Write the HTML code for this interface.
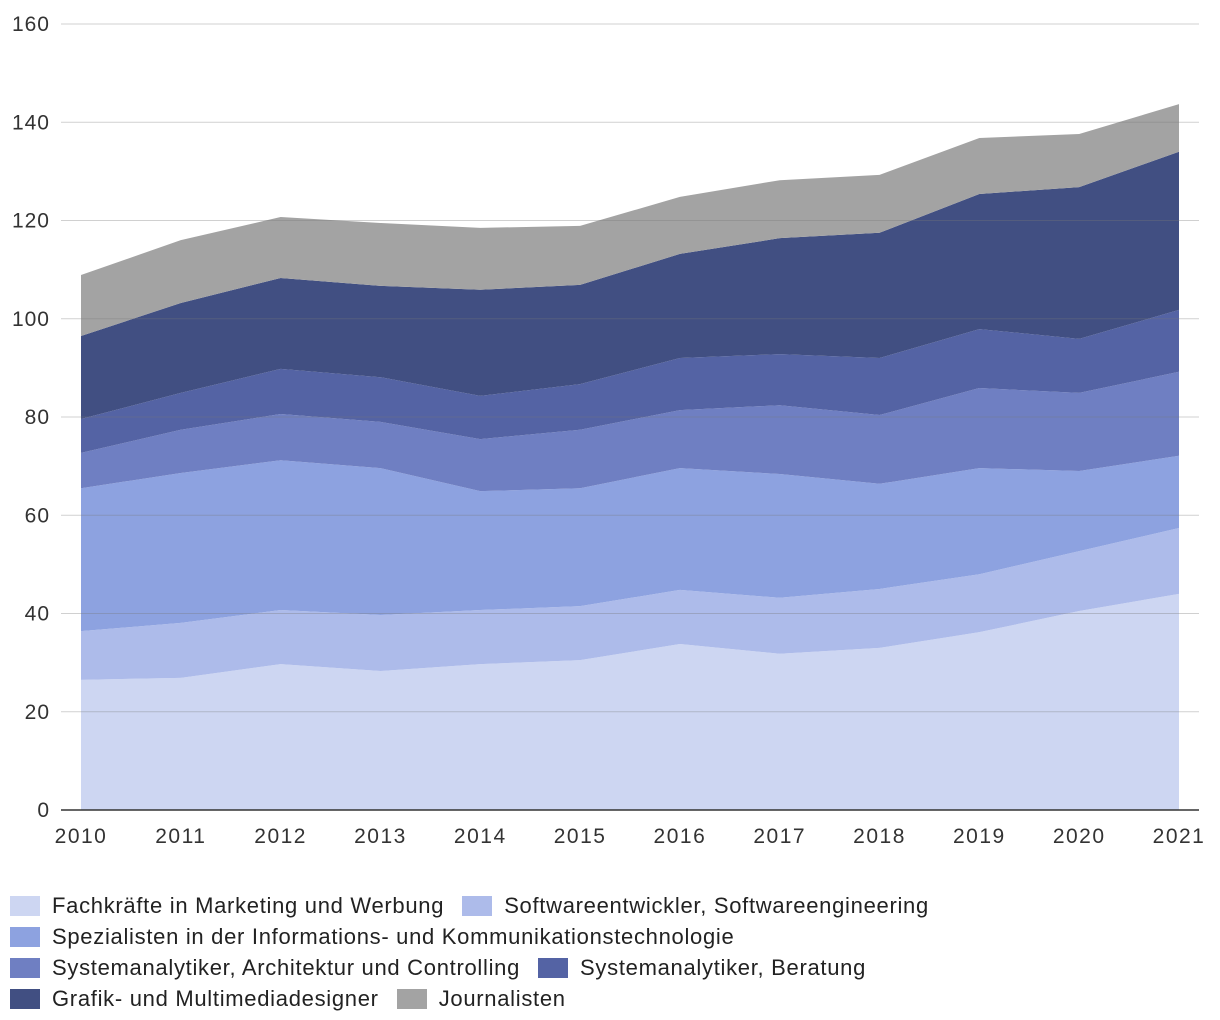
<!DOCTYPE html>
<html><head><meta charset="utf-8"><style>
body{margin:0;background:#fff;font-family:"Liberation Sans",sans-serif;}
.lg{position:absolute;left:10px;top:890px;width:1210px;font-size:22px;letter-spacing:0.7px;color:#222;}
.row{height:31px;display:flex;align-items:center;white-space:nowrap;}
.it{display:flex;align-items:center;margin-right:18px;}
.sw{width:30px;height:20px;margin-right:12px;}
</style></head><body>
<svg id="c" width="1220" height="880" style="position:absolute;left:0;top:0"></svg>
<div class="lg">
<div class="row"><div class="it"><div class="sw" style="background:#cdd6f2"></div>Fachkräfte in Marketing und Werbung</div><div class="it"><div class="sw" style="background:#adbbea"></div>Softwareentwickler, Softwareengineering</div></div>
<div class="row"><div class="it"><div class="sw" style="background:#8da2e0"></div>Spezialisten in der Informations- und Kommunikationstechnologie</div></div>
<div class="row"><div class="it"><div class="sw" style="background:#6f7fc2"></div>Systemanalytiker, Architektur und Controlling</div><div class="it"><div class="sw" style="background:#5463a4"></div>Systemanalytiker, Beratung</div></div>
<div class="row"><div class="it"><div class="sw" style="background:#414f82"></div>Grafik- und Multimediadesigner</div><div class="it"><div class="sw" style="background:#a3a3a3"></div>Journalisten</div></div>
</div>
<script>
const years=[2010,2011,2012,2013,2014,2015,2016,2017,2018,2019,2020,2021];
const yTicks=[0,20,40,60,80,100,120,140,160];
const fachkraefte=[26.5,26.9,29.7,28.3,29.7,30.5,33.8,31.8,33,36.2,40.5,44];
const software=[9.9,11.2,11,11.4,11,11,11,11.4,12,11.8,12.2,13.4];
const spezialisten=[29.1,30.5,30.5,29.9,24.2,24,24.8,25.2,21.4,21.6,16.3,14.7];
const sysArch=[7.2,8.8,9.4,9.4,10.6,11.9,11.8,14,14,16.3,15.9,17.1];
const sysBeratung=[6.9,7.5,9.2,9.1,8.8,9.3,10.6,10.4,11.6,12,11,12.6];
const grafik=[16.9,18.3,18.5,18.6,21.6,20.2,21.2,23.6,25.5,27.5,30.9,32.2];
const journalisten=[12.4,12.8,12.4,12.8,12.6,12,11.6,11.8,11.8,11.4,10.8,9.7];
const series=[fachkraefte,software,spezialisten,sysArch,sysBeratung,grafik,journalisten];
const names=['area-fachkraefte','area-software','area-spezialisten','area-sys-architektur','area-sys-beratung','area-grafik','area-journalisten'];
const colors=['#cdd6f2','#adbbea','#8da2e0','#6f7fc2','#5463a4','#414f82','#a3a3a3'];
const NS='http://www.w3.org/2000/svg';
const svg=document.getElementById('c');
const x=i=>81+(1179-81)*i/(years.length-1);
const y=v=>810-(810-24)*v/160;
function mk(t,a){const e=document.createElementNS(NS,t);for(const k in a)e.setAttribute(k,a[k]);svg.appendChild(e);return e;}
let base=years.map(()=>0);
series.forEach((s,si)=>{
  const top=base.map((b,i)=>b+s[i]);
  let d='M'+years.map((_,i)=>x(i)+','+y(top[i])).join(' L');
  for(let i=years.length-1;i>=0;i--)d+=' L'+x(i)+','+y(base[i]);
  const p=mk('path',{d:d+'Z',fill:colors[si]});
  
  
  base=top;
});
yTicks.forEach(t=>{
  const l=mk('line',{x1:61,x2:1199,y1:y(t),y2:y(t),stroke:t===0?'#333':'rgba(120,120,120,0.35)','stroke-width':t===0?1.5:1});
  
  
  const tx=mk('text',{x:50,y:y(t)+7,'text-anchor':'end','font-size':21,'letter-spacing':1,fill:'#333','font-family':'Liberation Sans, sans-serif'});
  tx.textContent=t;
  
  
});
years.forEach((yr,i)=>{
  const tx=mk('text',{x:x(i),y:843,'text-anchor':'middle','font-size':21,'letter-spacing':1.5,fill:'#333','font-family':'Liberation Sans, sans-serif'});
  tx.textContent=yr;
  
  
});
</script>
</body></html>
